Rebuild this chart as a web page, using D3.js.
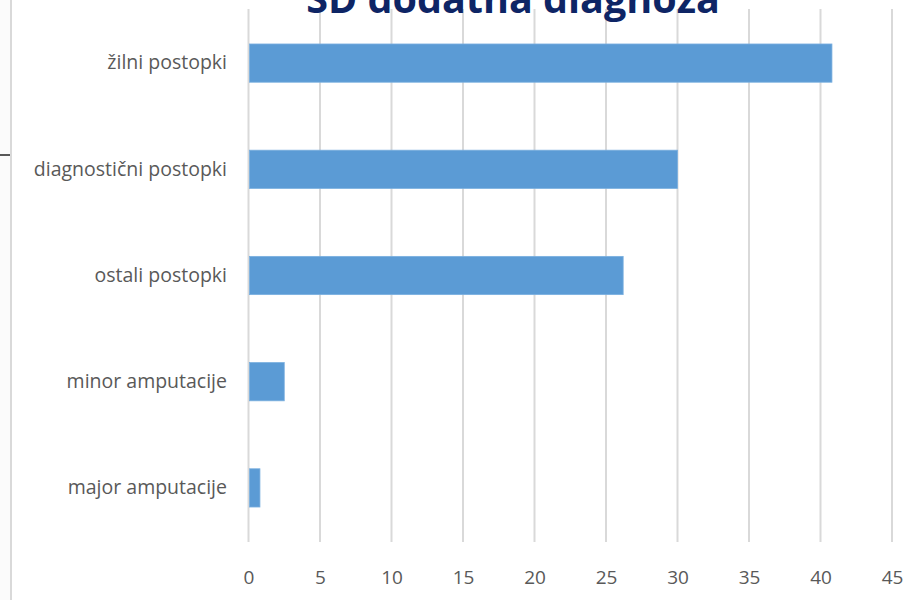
<!DOCTYPE html>
<html>
  <head>
    <meta charset="utf-8">
    <title>SD dodatna diagnoza</title>
    <script src="https://cdn.jsdelivr.net/npm/d3@7"></script>
    <style>
      body { margin: 0; background: #ffffff; }
      text { font-family: "Open Sans", "Noto Sans", sans-serif; }
    </style>
  </head>
  <body>
    <svg width="920" height="600" id="mainsvg"></svg>
    <script>
        // data
        const categories = ['žilni postopki', 'diagnostični postopki', 'ostali postopki', 'minor amputacije', 'major amputacije'];
        const values = [40.8, 30.0, 26.2, 2.5, 0.8];
        const xTicks = [0, 5, 10, 15, 20, 25, 30, 35, 40, 45];
        const title = 'SD dodatna diagnoza';

        const svg = d3.select('#mainsvg');

        // slide edge on the left
        svg.append('rect').attr('x', 0).attr('y', 0).attr('width', 10).attr('height', 600).attr('fill', '#fbfbfb');
        svg.append('line').attr('x1', 11).attr('x2', 11).attr('y1', 0).attr('y2', 600)
            .attr('stroke', '#d9d9d9').attr('stroke-width', 2);
        svg.append('line').attr('x1', 0).attr('x2', 10).attr('y1', 155).attr('y2', 155)
            .attr('stroke', '#222').attr('stroke-width', 1.5);

        const x = d3.scaleLinear().domain([0, 45]).range([248.5, 892]);
        const y = d3.scaleBand().domain(categories).range([10, 541])
            .paddingInner(0.64).paddingOuter(0.32);

        // gridlines
        svg.append('g').selectAll('line')
            .data(xTicks)
            .enter().append('line')
            .attr('x1', d => x(d)).attr('x2', d => x(d))
            .attr('y1', 9).attr('y2', 542)
            .attr('stroke', '#d9d9d9').attr('stroke-width', 2);

        // bars
        svg.append('g').selectAll('rect')
            .data(values)
            .enter().append('rect')
            .attr('x', x(0) + 1)
            .attr('y', (d, i) => y(categories[i]))
            .attr('width', d => x(d) - x(0) - 1)
            .attr('height', y.bandwidth())
            .attr('fill', '#5b9bd5')
            .attr('stroke', '#7aafdf').attr('stroke-width', 0.8);

        // x axis labels
        const xAxis = d3.axisBottom(x).tickValues(xTicks).tickSize(0).tickPadding(0);
        const gx = svg.append('g').attr('transform', 'translate(0,570)').call(xAxis);
        gx.select('.domain').remove();
        gx.selectAll('text').attr('fill', '#595959').style('font-size', '19px')
            .attr('dy', '0.35em').attr('y', 7);

        // category labels
        const yAxis = d3.axisLeft(y).tickSize(0).tickPadding(0);
        const gy = svg.append('g').attr('transform', 'translate(227,0)').call(yAxis);
        gy.select('.domain').remove();
        gy.selectAll('text').attr('fill', '#595959').style('font-size', '19.5px');

        // title (cut off by the top edge)
        svg.append('text')
            .attr('x', 513).attr('y', 13)
            .attr('text-anchor', 'middle')
            .attr('fill', '#0e2565')
            .style('font-size', '39.5px').style('font-weight', 'bold')
            .text(title);
    </script>
  </body>
</html>
